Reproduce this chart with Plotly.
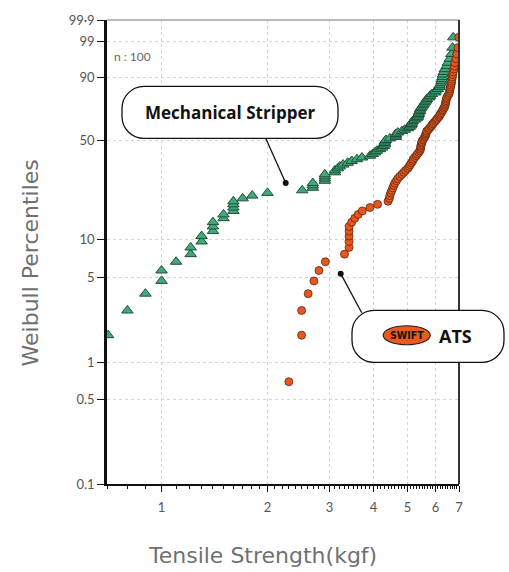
import numpy as np
import plotly.graph_objects as go

# ---------------- data ----------------
# Weibull plotting percentiles (n = 100)
percentiles = [0.70, 1.69, 2.69, 3.69, 4.68, 5.68, 6.67, 7.67, 8.67, 9.66,
               10.66, 11.65, 12.65, 13.65, 14.64, 15.64, 16.63, 17.63, 18.63, 19.62,
               20.62, 21.61, 22.61, 23.61, 24.60, 25.60, 26.59, 27.59, 28.59, 29.58,
               30.58, 31.57, 32.57, 33.57, 34.56, 35.56, 36.55, 37.55, 38.55, 39.54,
               40.54, 41.53, 42.53, 43.53, 44.52, 45.52, 46.51, 47.51, 48.51, 49.50,
               50.50, 51.49, 52.49, 53.49, 54.48, 55.48, 56.47, 57.47, 58.47, 59.46,
               60.46, 61.45, 62.45, 63.45, 64.44, 65.44, 66.43, 67.43, 68.43, 69.42,
               70.42, 71.41, 72.41, 73.41, 74.40, 75.40, 76.39, 77.39, 78.39, 79.38,
               80.38, 81.37, 82.37, 83.37, 84.36, 85.36, 86.35, 87.35, 88.35, 89.34,
               90.34, 91.33, 92.33, 93.33, 94.32, 95.32, 96.31, 97.31, 98.31, 99.30]

mechanical_kgf = [0.66, 0.705, 0.80, 0.90, 1.00, 1.00, 1.10, 1.21, 1.21, 1.30,
                  1.30, 1.40, 1.40, 1.40, 1.50, 1.50, 1.60, 1.60, 1.60, 1.60,
                  1.70, 1.81, 2.00, 2.51, 2.69, 2.69, 2.69, 2.91, 2.91, 2.91,
                  2.91, 3.11, 3.11, 3.17, 3.21, 3.28, 3.38, 3.47, 3.59, 3.71,
                  3.91, 3.98, 4.04, 4.09, 4.17, 4.23, 4.28, 4.31, 4.31, 4.31,
                  4.34, 4.45, 4.63, 4.63, 4.63, 4.69, 4.82, 4.91, 5.01, 5.07,
                  5.11, 5.14, 5.14, 5.17, 5.24, 5.31, 5.35, 5.35, 5.38, 5.38,
                  5.42, 5.42, 5.45, 5.49, 5.53, 5.56, 5.60, 5.64, 5.67, 5.75,
                  5.79, 5.86, 5.98, 6.01, 6.09, 6.17, 6.17, 6.22, 6.24, 6.26,
                  6.28, 6.30, 6.34, 6.38, 6.46, 6.51, 6.59, 6.66, 6.71, 6.74]

ats_kgf = [2.30, 2.50, 2.50, 2.61, 2.71, 2.80, 2.92, 3.31, 3.41, 3.41,
           3.41, 3.41, 3.41, 3.47, 3.54, 3.62, 3.72, 3.91, 4.11, 4.40,
           4.44, 4.45, 4.48, 4.51, 4.54, 4.57, 4.60, 4.65, 4.69, 4.75,
           4.82, 4.88, 4.94, 5.01, 5.05, 5.09, 5.13, 5.17, 5.19, 5.24,
           5.29, 5.33, 5.38, 5.42, 5.44, 5.45, 5.45, 5.47, 5.49, 5.49,
           5.53, 5.56, 5.60, 5.62, 5.64, 5.65, 5.67, 5.73, 5.77, 5.82,
           5.86, 5.90, 5.94, 6.00, 6.04, 6.08, 6.14, 6.17, 6.20, 6.24,
           6.28, 6.30, 6.34, 6.38, 6.39, 6.40, 6.42, 6.43, 6.45, 6.46,
           6.51, 6.55, 6.57, 6.59, 6.60, 6.62, 6.64, 6.66, 6.67, 6.69,
           6.70, 6.72, 6.74, 6.77, 6.79, 6.81, 6.86, 6.90, 6.95, 6.99]

y_tick_percent = [0.1, 0.5, 1, 5, 10, 50, 90, 99, 99.9]
y_tick_text = ["0.1", "0.5", "1", "5", "10", "50", "90", "99", "99·9"]
x_tick_vals = [1, 2, 3, 4, 5, 6, 7]
x_range = [0.7, 7.0]


def weibull(p):
    p = np.asarray(p, dtype=float) / 100.0
    return np.log(-np.log(1.0 - p))


# ---------------- figure ----------------
W, H = 509, 572
ML, MR, MT, MB = 107, 50, 17, 88
PW, PH = W - ML - MR, H - MT - MB


def P(px, py):
    return (px - ML) / PW, 1 - (py - MT) / PH


fig = go.Figure()
fig.add_trace(go.Scatter(
    x=mechanical_kgf, y=weibull(percentiles), mode="markers",
    name="Mechanical Stripper",
    marker=dict(symbol="triangle-up", size=10, color="#3fab79",
                line=dict(color="#1f4d38", width=1)),
))
fig.add_trace(go.Scatter(
    x=ats_kgf, y=weibull(percentiles), mode="markers", name="ATS",
    marker=dict(symbol="circle", size=8, color="#e8561e",
                line=dict(color="#5c2a12", width=0.8)),
))

minor_vals = [v for v in np.round(np.arange(0.7, 7.0001, 0.1), 2) if v not in x_tick_vals]

fig.update_xaxes(
    type="log", range=[np.log10(x_range[0]), np.log10(x_range[1])],
    tickmode="array", tickvals=x_tick_vals, ticktext=[str(v) for v in x_tick_vals],
    ticks="outside", ticklen=6, tickwidth=1.2, tickcolor="#111",
    minor=dict(tickmode="array", tickvals=minor_vals, ticks="outside", ticklen=3,
               tickwidth=1, tickcolor="#111", showgrid=False),
    showline=True, linecolor="#111", linewidth=2,
    showgrid=True, gridcolor="#d4d4d4", griddash="dot", gridwidth=1,
    tickfont=dict(family="Lato", size=13, color="#555"),
    ticklabelstandoff=4, zeroline=False,
)
fig.update_yaxes(
    range=[float(weibull(0.1)), float(weibull(99.9))],
    tickmode="array", tickvals=weibull(y_tick_percent), ticktext=y_tick_text,
    ticks="outside", ticklen=7, tickwidth=1.2, tickcolor="#111",
    showline=True, linecolor="#111", linewidth=2.5,
    showgrid=True, gridcolor="#d4d4d4", griddash="dot", gridwidth=1,
    tickfont=dict(family="Lato", size=13, color="#555"),
    zeroline=False,
)


def rrect_path(w, h, r):
    hw, hh, k = w / 2, h / 2, 0.5523 * r
    return (f"M {-hw + r},{-hh} L {hw - r},{-hh} "
            f"C {hw - r + k},{-hh} {hw},{-hh + r - k} {hw},{-hh + r} "
            f"L {hw},{hh - r} "
            f"C {hw},{hh - r + k} {hw - r + k},{hh} {hw - r},{hh} "
            f"L {-hw + r},{hh} "
            f"C {-hw + r - k},{hh} {-hw},{hh - r + k} {-hw},{hh - r} "
            f"L {-hw},{-hh + r} "
            f"C {-hw},{-hh + r - k} {-hw + r - k},{-hh} {-hw + r},{-hh} Z")


shapes = []
# frame: top and right borders
shapes.append(dict(type="line", xref="paper", yref="paper", x0=0, x1=1, y0=1, y1=1,
                   line=dict(color="#777", width=1)))
shapes.append(dict(type="line", xref="paper", yref="paper", x0=1, x1=1, y0=0, y1=1,
                   line=dict(color="#333", width=2)))


def callout(box_c, box_w, box_h, r, line_from, dot):
    cx, cy = P(*box_c)
    shapes.append(dict(type="path", xref="paper", yref="paper",
                       xsizemode="pixel", ysizemode="pixel", xanchor=cx, yanchor=cy,
                       path=rrect_path(box_w, box_h, r),
                       fillcolor="white", line=dict(color="#111", width=1.3)))
    x0, y0 = P(*line_from)
    x1, y1 = P(*dot)
    shapes.append(dict(type="line", xref="paper", yref="paper", x0=x0, y0=y0, x1=x1, y1=y1,
                       line=dict(color="#111", width=1.3)))
    shapes.append(dict(type="circle", xref="paper", yref="paper",
                       xsizemode="pixel", ysizemode="pixel", xanchor=x1, yanchor=y1,
                       x0=-3, x1=3, y0=-3, y1=3, fillcolor="#111", line=dict(width=0)))


callout((230, 110), 216, 52, 22, (265.7, 136), (285.7, 181))
callout((428, 335.5), 152, 52, 22, (361.7, 311.7), (340.7, 272.3))

# SWIFT logo oval
lx, ly = P(406.7, 334.3)
shapes.append(dict(type="circle", xref="paper", yref="paper",
                   xsizemode="pixel", ysizemode="pixel", xanchor=lx, yanchor=ly,
                   x0=-23.5, x1=23.5, y0=-9.5, y1=9.5,
                   fillcolor="#ea5a1c", line=dict(color="#222", width=1.2)))

annotations = []


def text(px, py, s, size, color, bold=False, family="Open Sans", xanchor="center", angle=0):
    x, y = P(px, py)
    annotations.append(dict(xref="paper", yref="paper", x=x, y=y, text=s, showarrow=False,
                            xanchor=xanchor, yanchor="middle", textangle=angle,
                            font=dict(size=size, color=color, family=family,
                                      weight="bold" if bold else "normal")))


text(230, 110, "Mechanical Stripper", 17, "#111", bold=True)
text(455, 335, "ATS", 18, "#111", bold=True)
text(406.7, 334.5, "SWIFT", 10.5, "#111", bold=True, family="DejaVu Sans Condensed")
text(112, 54, "n : 100", 12, "#666", family="Lato", xanchor="left")
text(262.5, 556, "Tensile Strength(kgf)", 22, "#707070", family="DejaVu Sans")
text(30, 262, "Weibull Percentiles", 22, "#707070", family="DejaVu Sans", angle=-90)

fig.update_layout(
    width=W, height=H, autosize=False,
    margin=dict(l=ML, r=MR, t=MT, b=MB),
    paper_bgcolor="white", plot_bgcolor="white",
    showlegend=False, shapes=shapes, annotations=annotations,
)

fig.write_html("out.html", config={"displayModeBar": False},
               post_script="document.body.style.margin='0';document.body.style.overflow='hidden';")
